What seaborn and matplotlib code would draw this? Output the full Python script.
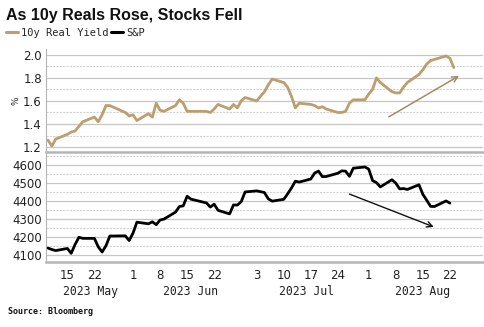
import matplotlib
matplotlib.use("Agg")
import matplotlib.pyplot as plt
from matplotlib.lines import Line2D
from matplotlib.ticker import FormatStrFormatter
import seaborn as sns
import pandas as pd

# ---------------- data ----------------
yield_dates = [
    "2023-05-10", "2023-05-11", "2023-05-12", "2023-05-15", "2023-05-16", "2023-05-17", "2023-05-18", "2023-05-19",
    "2023-05-22", "2023-05-23", "2023-05-24", "2023-05-25", "2023-05-26", "2023-05-30", "2023-05-31",
    "2023-06-01", "2023-06-02", "2023-06-05", "2023-06-06", "2023-06-07", "2023-06-08", "2023-06-09",
    "2023-06-12", "2023-06-13", "2023-06-14", "2023-06-15", "2023-06-16", "2023-06-20", "2023-06-21",
    "2023-06-22", "2023-06-23", "2023-06-26", "2023-06-27", "2023-06-28", "2023-06-29", "2023-06-30",
    "2023-07-03", "2023-07-05", "2023-07-06", "2023-07-07", "2023-07-10", "2023-07-11", "2023-07-12",
    "2023-07-13", "2023-07-14", "2023-07-17", "2023-07-18", "2023-07-19", "2023-07-20", "2023-07-21",
    "2023-07-24", "2023-07-25", "2023-07-26", "2023-07-27", "2023-07-28", "2023-07-31",
    "2023-08-01", "2023-08-02", "2023-08-03", "2023-08-04", "2023-08-07", "2023-08-08", "2023-08-09",
    "2023-08-10", "2023-08-11", "2023-08-14", "2023-08-15", "2023-08-16", "2023-08-17", "2023-08-18",
    "2023-08-21", "2023-08-22", "2023-08-23",
]
real_yield = [
    1.26, 1.21, 1.27, 1.31, 1.33, 1.34, 1.38, 1.42,
    1.46, 1.42, 1.48, 1.56, 1.56, 1.50, 1.47,
    1.48, 1.43, 1.49, 1.46, 1.58, 1.52, 1.51,
    1.56, 1.61, 1.58, 1.51, 1.51, 1.51, 1.50,
    1.53, 1.57, 1.53, 1.57, 1.54, 1.60, 1.63,
    1.60, 1.68, 1.74, 1.79, 1.76, 1.72, 1.64,
    1.54, 1.58, 1.57, 1.56, 1.54, 1.55, 1.53,
    1.50, 1.50, 1.51, 1.58, 1.61, 1.61,
    1.66, 1.70, 1.80, 1.76, 1.68, 1.67, 1.67,
    1.72, 1.76, 1.83, 1.87, 1.92, 1.95, 1.96,
    1.99, 1.97, 1.89,
]
spx_dates = yield_dates[:-1]
spx = [
    4138, 4130, 4124, 4136, 4109, 4158, 4198, 4192,
    4192, 4145, 4116, 4151, 4205, 4206, 4180,
    4221, 4282, 4273, 4284, 4268, 4294, 4299,
    4338, 4369, 4373, 4426, 4410, 4389, 4366,
    4382, 4348, 4328, 4378, 4377, 4396, 4450,
    4456, 4447, 4412, 4399, 4409, 4439, 4472,
    4510, 4505, 4522, 4555, 4566, 4535, 4536,
    4554, 4567, 4566, 4537, 4582, 4589,
    4577, 4513, 4502, 4478, 4518, 4499, 4467,
    4469, 4464, 4490, 4437, 4404, 4370, 4369,
    4400, 4388,
]
tick_dates = ["2023-05-15", "2023-05-22", "2023-06-01", "2023-06-08", "2023-06-15", "2023-06-22",
              "2023-07-03", "2023-07-10", "2023-07-17", "2023-07-24", "2023-08-01", "2023-08-08",
              "2023-08-15", "2023-08-22"]
tick_labels = ["15", "22", "1", "8", "15", "22", "3", "10", "17", "24", "1", "8", "15", "22"]
month_dates = ["2023-05-21", "2023-06-16", "2023-07-16", "2023-08-15"]
month_labels = ["2023 May", "2023 Jun", "2023 Jul", "2023 Aug"]
yield_arrow = [("2023-08-05 14:00", 1.45), ("2023-08-25", 1.83)]
spx_arrow = [("2023-07-26 08:00", 4444), ("2023-08-18 12:00", 4250)]
x_range = ["2023-05-09 12:00", "2023-08-30 14:00"]
yield_major = [1.2, 1.4, 1.6, 1.8, 2.0]
yield_minor = [1.3, 1.5, 1.7, 1.9]
spx_major = [4100, 4200, 4300, 4400, 4500, 4600]
spx_minor = [4150, 4250, 4350, 4450, 4550, 4650]

df_y = pd.DataFrame({"date": pd.to_datetime(yield_dates), "value": real_yield})
df_s = pd.DataFrame({"date": pd.to_datetime(spx_dates), "value": spx})

# ---------------- style ----------------
sns.set_style("white")
plt.rcParams["font.family"] = ["DejaVu Sans"]
GOLD = "#BD9E6E"
GRID = "#c6c6c6"
MINOR = "#d2d2d2"
SPINE = "#b5b5b5"

fig = plt.figure(figsize=(4.85, 3.27), dpi=100)
ax1 = fig.add_axes([0.095, 0.535, 0.901, 0.315])
ax2 = fig.add_axes([0.095, 0.199, 0.901, 0.330], sharex=ax1)

sns.lineplot(data=df_y, x="date", y="value", ax=ax1, color=GOLD, lw=2.0, zorder=3)
sns.lineplot(data=df_s, x="date", y="value", ax=ax2, color="black", lw=2.0, zorder=3)

ax1.set_ylim(1.157, 2.05)
ax1.set_yticks(yield_major)
ax1.yaxis.set_major_formatter(FormatStrFormatter("%.1f"))
ax2.set_ylim(4061, 4661)
ax2.set_yticks(spx_major)
ax1.set_xlim(pd.to_datetime(x_range[0]), pd.to_datetime(x_range[1]))

# horizontal grid lines: major solid, minor dashed (x in axes fraction)
for ax, majors, minors in ((ax1, yield_major, yield_minor), (ax2, spx_major, spx_minor)):
    tr = ax.get_yaxis_transform()
    ax.hlines(majors, 0, 1, transform=tr, colors=GRID, linewidths=0.9, zorder=2)
    ax.hlines(minors, 0, 1, transform=tr, colors=MINOR, linewidths=0.8,
              linestyles=(0, (2, 1)), zorder=2)

for ax in (ax1, ax2):
    for s in ("top", "right"):
        ax.spines[s].set_visible(False)
    ax.spines["left"].set_color(SPINE)
    ax.spines["left"].set_linewidth(0.8)
    ax.spines["bottom"].set_color(SPINE)
    ax.spines["bottom"].set_linewidth(1.8)
    ax.tick_params(axis="y", which="both", length=0, labelsize=8.5, labelcolor="#222222", pad=3)
    ax.set_xlabel("")
    ax.set_ylabel("")

ax1.tick_params(axis="x", which="both", length=0, labelbottom=False)
ax2.set_xticks(pd.to_datetime(tick_dates))
ax2.set_xticklabels(tick_labels)
ax2.tick_params(axis="x", length=2, color=SPINE, labelsize=8.5, labelcolor="#222222", pad=3)

ax1.set_ylabel("%", fontsize=6.5, rotation=90, labelpad=2)

for d, t in zip(month_dates, month_labels):
    ax2.text(pd.to_datetime(d), -0.27, t, transform=ax2.get_xaxis_transform(),
             ha="center", va="center", fontsize=8.3, family="DejaVu Sans Mono", color="#222222")

ax1.annotate("", xy=(pd.to_datetime(yield_arrow[1][0]), yield_arrow[1][1]),
             xytext=(pd.to_datetime(yield_arrow[0][0]), yield_arrow[0][1]),
             arrowprops=dict(arrowstyle="->", color="#A68A62", lw=1.1, mutation_scale=10))
ax2.annotate("", xy=(pd.to_datetime(spx_arrow[1][0]), spx_arrow[1][1]),
             xytext=(pd.to_datetime(spx_arrow[0][0]), spx_arrow[0][1]),
             arrowprops=dict(arrowstyle="->", color="#111111", lw=1.0, mutation_scale=10))

fig.text(0.012, 0.952, "As 10y Reals Rose, Stocks Fell", fontsize=11.5, fontweight="bold",
         ha="left", va="center", color="#111111", family="Liberation Sans")
handles = [Line2D([0], [0], color=GOLD, lw=2.2), Line2D([0], [0], color="black", lw=2.2)]
fig.legend(handles, ["10y Real Yield", "S&P"], loc="center left", bbox_to_anchor=(0.0, 0.9),
           ncol=2, frameon=False, handlelength=1.1, handletextpad=0.3, columnspacing=0.3,
           prop={"family": "DejaVu Sans Mono", "size": 7.5}, borderaxespad=0.2)
fig.text(0.016, 0.048, "Source: Bloomberg", fontsize=6, fontweight="bold",
         family="DejaVu Sans Mono", ha="left", va="center", color="#111111")

fig.savefig("out.png", dpi=100)
